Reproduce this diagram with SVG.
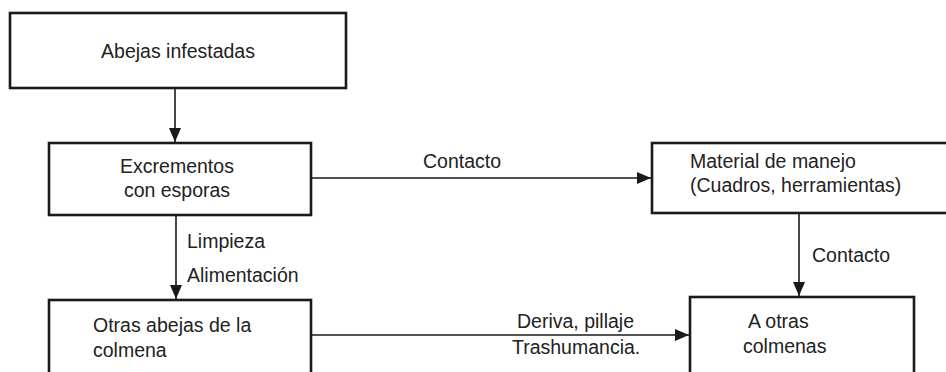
<svg xmlns="http://www.w3.org/2000/svg" width="946" height="372" viewBox="0 0 946 372">
<style>
.box{fill:#fff;stroke:#1a1a1a;stroke-width:2.6}
.t{font-family:"Liberation Sans",Arial,sans-serif;font-size:19.5px;fill:#222}
.m{text-anchor:middle}
.c{fill:none;stroke:#1a1a1a;stroke-width:1.6}
</style>
<defs>
<marker id="ah" markerUnits="userSpaceOnUse" markerWidth="15" markerHeight="12" refX="14" refY="6" orient="auto">
<path d="M0,0 L14,6 L0,12 z" fill="#1a1a1a"/>
</marker>
</defs>
<rect width="946" height="372" fill="#fff"/>
<g id="connectors">
<line class="c" x1="175" y1="88" x2="175" y2="142" marker-end="url(#ah)"/>
<line class="c" x1="176" y1="215" x2="176" y2="299" marker-end="url(#ah)"/>
<line class="c" x1="311" y1="178" x2="651" y2="178" marker-end="url(#ah)"/>
<line class="c" x1="799" y1="213" x2="799" y2="296" marker-end="url(#ah)"/>
<line class="c" x1="311" y1="335" x2="689" y2="335" marker-end="url(#ah)"/>
<text class="t" x="423" y="168">Contacto</text>
<text class="t" x="187" y="248">Limpieza</text>
<text class="t" x="187" y="282">Alimentación</text>
<text class="t" x="812" y="262">Contacto</text>
<text class="t" x="517" y="328">Deriva, pillaje</text>
<text class="t" x="512" y="354">Trashumancia.</text>
</g>
<g id="abejas-infestadas">
<rect class="box" x="10" y="13" width="336" height="75"/>
<text class="t m" x="178" y="58">Abejas infestadas</text>
</g>
<g id="excrementos">
<rect class="box" x="49" y="143" width="262" height="72"/>
<text class="t m" x="177" y="173">Excrementos</text>
<text class="t m" x="177" y="197">con esporas</text>
</g>
<g id="otras-abejas">
<rect class="box" x="49" y="300" width="262" height="90"/>
<text class="t" x="93" y="332">Otras abejas de la</text>
<text class="t" x="93" y="357">colmena</text>
</g>
<g id="material-manejo">
<rect class="box" x="652" y="143" width="310" height="70"/>
<text class="t" x="690" y="168">Material de manejo</text>
<text class="t" x="690" y="192">(Cuadros, herramientas)</text>
</g>
<g id="otras-colmenas">
<rect class="box" x="690" y="297" width="224" height="93"/>
<text class="t" x="748" y="328">A otras</text>
<text class="t" x="743" y="353">colmenas</text>
</g>
</svg>
